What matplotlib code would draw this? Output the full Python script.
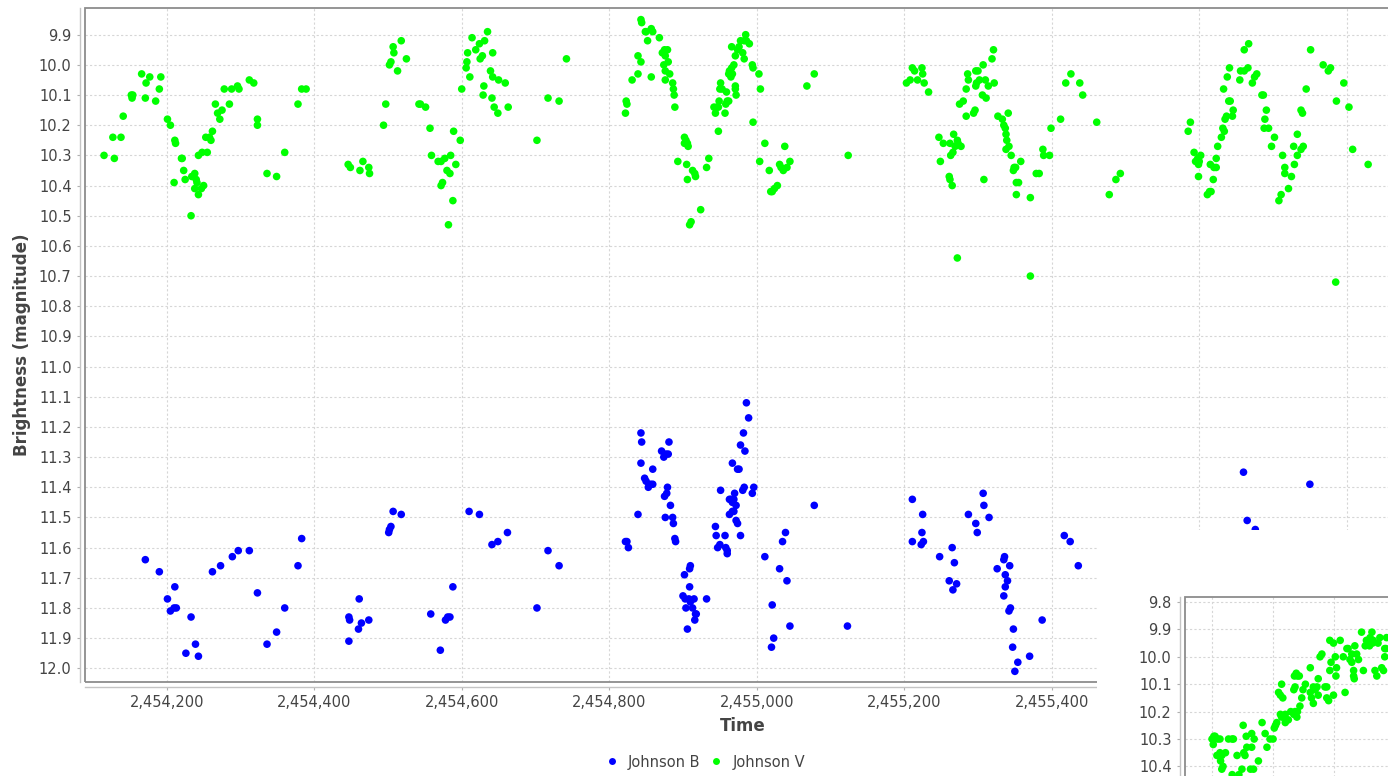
import numpy as np
import matplotlib
matplotlib.use('Agg')
import matplotlib.pyplot as plt
from matplotlib.patches import Rectangle
from matplotlib.lines import Line2D
from matplotlib.ticker import FuncFormatter, MultipleLocator

# 时间以 JD - 2454000 记录
JD0 = 2454000

# Johnson V 观测
v_time = [
    115, 127, 129, 138, 141, 152, 153, 154, 166, 171, 172, 177, 185, 190, 192, 201, 205, 211, 212, 210,
    220, 221, 223, 225, 233, 234, 238, 240, 238, 241, 243, 250, 247, 243, 248, 255, 253, 258, 260, 262,
    266, 269, 272, 275, 278, 285, 288, 296, 298, 312, 318, 323, 323, 336, 349, 360, 378, 383, 389,
    446, 449, 462, 466, 474, 475, 494, 497, 502, 504, 507, 508, 513, 518, 525, 542, 544, 551, 557, 559,
    568, 572, 577, 585, 580, 584, 574, 572, 589, 592, 588, 582, 598, 600, 606, 607, 608, 611, 614, 619,
    624, 631, 625, 628, 629, 630, 635, 639, 642, 642, 641, 644, 649, 650, 659, 663, 702, 717, 732, 742,
    822, 824, 823, 831, 839, 839, 843, 844, 849, 850, 852, 843, 857, 859, 857, 868, 872, 875, 879, 876,
    880, 874, 876, 882, 876, 886, 887, 888, 889, 902, 904, 906, 907, 902, 893, 905, 913, 916, 917, 906,
    932, 935, 924, 909, 911,
    942, 946, 944, 948, 949, 951, 950, 953, 957, 958, 959, 960, 962, 948, 962, 963, 966, 967, 965, 969,
    971, 971, 971, 972, 966, 974, 976, 978, 981, 983, 985, 986, 990, 983, 994, 995, 1003, 1005, 995, 1011,
    1004, 1017, 1019, 1021, 1024, 1028, 1031, 1033, 1036, 1041, 1045, 1038, 1068, 1078, 1124,
    1203, 1208, 1211, 1214, 1218, 1224, 1225, 1227, 1233, 1247, 1253, 1249, 1262, 1263, 1266, 1267, 1269,
    1272, 1273, 1277, 1261, 1262, 1265, 1272, 1275, 1280, 1284, 1284, 1294, 1296, 1286, 1287, 1297, 1300,
    1297, 1298, 1302, 1307, 1310, 1306, 1311, 1314, 1319, 1321, 1322, 1327, 1333, 1335, 1337, 1338, 1341,
    1339, 1342, 1338, 1345, 1349, 1348, 1351, 1358, 1352, 1355, 1352, 1371, 1371, 1308, 1379, 1383, 1388,
    1389, 1397, 1399, 1412, 1419, 1426, 1438, 1442, 1461, 1478, 1487, 1493,
    1585, 1588, 1593, 1595, 1598, 1600, 1602, 1599, 1599, 1611, 1614, 1616, 1619, 1615, 1620, 1623, 1623,
    1625, 1630, 1632, 1634, 1635, 1637, 1640, 1642, 1645, 1646, 1633, 1638, 1641, 1655, 1656, 1661, 1666,
    1672, 1675, 1678, 1661, 1667, 1685, 1687, 1691, 1689, 1688, 1694, 1702, 1698, 1713, 1716, 1716, 1725,
    1711, 1708, 1721, 1728, 1733, 1729, 1733, 1738, 1741, 1738, 1740, 1745, 1751, 1768, 1775, 1778, 1786,
    1796, 1803, 1808, 1829, 1785,
]
v_mag = [
    10.30, 10.24, 10.31, 10.24, 10.17, 10.10, 10.11, 10.10, 10.03, 10.11, 10.06, 10.04, 10.12, 10.08, 10.04, 10.18, 10.20, 10.25, 10.26, 10.39,
    10.31, 10.31, 10.35, 10.38, 10.50, 10.37, 10.36, 10.38, 10.41, 10.39, 10.43, 10.40, 10.41, 10.30, 10.29, 10.29, 10.24, 10.24, 10.25, 10.22,
    10.13, 10.16, 10.18, 10.15, 10.08, 10.13, 10.08, 10.07, 10.08, 10.05, 10.06, 10.18, 10.20, 10.36, 10.37, 10.29, 10.13, 10.08, 10.08,
    10.33, 10.34, 10.35, 10.32, 10.34, 10.36, 10.20, 10.13, 10.00, 9.99, 9.94, 9.96, 10.02, 9.92, 9.98, 10.13, 10.13, 10.14, 10.21, 10.30,
    10.32, 10.32, 10.31, 10.30, 10.35, 10.36, 10.39, 10.40, 10.22, 10.33, 10.45, 10.53, 10.25, 10.08, 10.01, 9.99, 9.96, 10.04, 9.91, 9.95,
    9.93, 9.92, 9.98, 9.97, 10.10, 10.07, 9.89, 10.02, 10.04, 9.96, 10.11, 10.14, 10.16, 10.05, 10.06, 10.14, 10.25, 10.11, 10.12, 9.98,
    10.16, 10.13, 10.12, 10.05, 10.03, 9.97, 9.85, 9.86, 9.89, 9.89, 9.92, 9.99, 9.88, 9.89, 10.04, 9.91, 9.96, 9.95, 9.95, 9.97,
    9.99, 10.00, 10.02, 10.03, 10.05, 10.06, 10.08, 10.10, 10.14, 10.24, 10.25, 10.26, 10.27, 10.26, 10.32, 10.33, 10.35, 10.36, 10.37, 10.38,
    10.34, 10.31, 10.48, 10.53, 10.52,
    10.14, 10.14, 10.16, 10.14, 10.12, 10.06, 10.08, 10.08, 10.16, 10.13, 10.09, 10.12, 10.12, 10.22, 10.03, 10.02, 10.01, 10.03, 10.04, 10.00,
    9.97, 10.08, 10.07, 10.10, 9.94, 9.95, 9.94, 9.92, 9.96, 9.98, 9.90, 9.92, 9.93, 9.92, 10.00, 10.01, 10.03, 10.08, 10.19, 10.26,
    10.32, 10.35, 10.42, 10.42, 10.41, 10.40, 10.33, 10.34, 10.35, 10.34, 10.32, 10.27, 10.07, 10.03, 10.30,
    10.06, 10.05, 10.01, 10.02, 10.05, 10.01, 10.03, 10.06, 10.09, 10.24, 10.26, 10.32, 10.26, 10.30, 10.29, 10.23, 10.27,
    10.25, 10.26, 10.27, 10.37, 10.38, 10.40, 10.64, 10.13, 10.12, 10.08, 10.17, 10.16, 10.15, 10.03, 10.05, 10.02, 10.02,
    10.07, 10.06, 10.05, 10.00, 10.05, 10.10, 10.11, 10.07, 9.98, 9.95, 10.06, 10.17, 10.18, 10.20, 10.21, 10.23, 10.16,
    10.25, 10.27, 10.28, 10.30, 10.34, 10.35, 10.34, 10.32, 10.39, 10.39, 10.43, 10.44, 10.70, 10.38, 10.36, 10.36, 10.28,
    10.30, 10.30, 10.21, 10.18, 10.06, 10.03, 10.06, 10.10, 10.19, 10.43, 10.38, 10.36,
    10.22, 10.19, 10.29, 10.32, 10.31, 10.32, 10.30, 10.33, 10.37, 10.43, 10.42, 10.42, 10.38, 10.33, 10.34, 10.34, 10.31,
    10.27, 10.24, 10.21, 10.22, 10.18, 10.17, 10.12, 10.12, 10.17, 10.15, 10.08, 10.04, 10.01, 10.05, 10.02, 10.02, 10.01,
    10.06, 10.04, 10.03, 9.95, 9.93, 10.10, 10.10, 10.15, 10.18, 10.21, 10.21, 10.24, 10.27, 10.30, 10.34, 10.36, 10.37,
    10.43, 10.45, 10.41, 10.27, 10.23, 10.33, 10.30, 10.28, 10.27, 10.15, 10.16, 10.08, 9.95, 10.00, 10.02, 10.01, 10.12,
    10.06, 10.14, 10.28, 10.33, 10.72,
]

# Johnson B 观测
b_time = [
    171, 190, 201, 205, 211, 210, 213, 226, 233, 239, 243, 262, 273, 289, 297, 312, 323, 336, 349, 360, 378, 383,
    447, 448, 447, 460, 464, 461, 474, 501, 502, 504, 507, 518, 558, 571, 578, 581, 584, 588, 610, 624, 641, 649,
    662, 702, 717, 732,
    824, 826, 822, 839, 843, 844, 843, 848, 850, 853, 856, 859, 859, 871, 874, 877, 880, 881, 875, 878, 879, 883,
    876, 886, 887, 889, 890,
    902, 909, 910, 909, 900, 903, 904, 908, 910, 915, 913, 906, 917, 918, 916, 932, 944, 945, 957, 947, 950, 958,
    960, 960,
    951, 963, 965, 967, 969, 970, 972, 969, 967, 963, 967, 974, 976, 972, 974, 978, 978, 984, 982, 986, 989, 981,
    983, 994, 996,
    1011, 1035, 1039, 1078, 1031, 1041, 1021, 1045, 1023, 1020, 1123,
    1211, 1225, 1224, 1226, 1223, 1211, 1248, 1265, 1268, 1261, 1271, 1266, 1287, 1297, 1299, 1307, 1308, 1315,
    1336, 1335, 1326, 1343, 1337, 1340, 1337, 1335, 1344, 1342, 1348, 1347, 1354, 1350, 1370, 1387, 1417, 1425,
    1436,
    1660, 1665, 1676, 1750,
]
b_mag = [
    11.64, 11.68, 11.77, 11.81, 11.73, 11.80, 11.80, 11.95, 11.83, 11.92, 11.96, 11.68, 11.66, 11.63, 11.61, 11.61, 11.75, 11.92, 11.88, 11.80, 11.66, 11.57,
    11.83, 11.84, 11.91, 11.87, 11.85, 11.77, 11.84, 11.55, 11.54, 11.53, 11.48, 11.49, 11.82, 11.94, 11.84, 11.83, 11.83, 11.73, 11.48, 11.49, 11.59, 11.58,
    11.55, 11.80, 11.61, 11.66,
    11.58, 11.60, 11.58, 11.49, 11.22, 11.25, 11.32, 11.37, 11.38, 11.40, 11.39, 11.39, 11.34, 11.28, 11.30, 11.29, 11.29, 11.25, 11.43, 11.42, 11.40, 11.46,
    11.50, 11.50, 11.52, 11.57, 11.58,
    11.69, 11.67, 11.66, 11.73, 11.76, 11.77, 11.80, 11.77, 11.78, 11.77, 11.80, 11.87, 11.82, 11.82, 11.84, 11.77, 11.53, 11.56, 11.56, 11.60, 11.59, 11.60,
    11.61, 11.62,
    11.41, 11.44, 11.44, 11.45, 11.44, 11.42, 11.46, 11.48, 11.48, 11.49, 11.32, 11.34, 11.34, 11.51, 11.52, 11.56, 11.26, 11.28, 11.22, 11.12, 11.17, 11.41,
    11.40, 11.42, 11.40,
    11.63, 11.58, 11.55, 11.46, 11.67, 11.71, 11.79, 11.86, 11.90, 11.93, 11.86,
    11.44, 11.49, 11.55, 11.58, 11.59, 11.58, 11.63, 11.60, 11.65, 11.71, 11.72, 11.74, 11.49, 11.52, 11.55, 11.42, 11.46, 11.50,
    11.63, 11.64, 11.67, 11.66, 11.69, 11.71, 11.73, 11.76, 11.80, 11.81, 11.87, 11.93, 11.98, 12.01, 11.96, 11.84, 11.56, 11.58,
    11.66,
    11.35, 11.51, 11.54, 11.39,
]

# 小窗口中的相位图 (Johnson V)
ph_phase = [
    0.100, 0.103, 0.105, 0.109, 0.113, 0.102, 0.108, 0.113, 0.116, 0.122, 0.114, 0.116, 0.118, 0.127, 0.133, 0.135,
    0.133, 0.141, 0.144, 0.149, 0.151, 0.152, 0.154, 0.156, 0.157, 0.163, 0.165, 0.165, 0.168, 0.169, 0.176, 0.182,
    0.187, 0.190, 0.195, 0.200, 0.202, 0.204, 0.206, 0.209, 0.212, 0.214, 0.216, 0.212, 0.214, 0.220, 0.220, 0.225,
    0.229, 0.234, 0.236, 0.240, 0.239, 0.244, 0.234, 0.236, 0.235, 0.238, 0.240, 0.243, 0.247, 0.249, 0.253, 0.261,
    0.261, 0.263, 0.266, 0.266, 0.269, 0.272, 0.274, 0.274, 0.277, 0.280, 0.285, 0.288, 0.288, 0.291, 0.293, 0.295,
    0.293, 0.299, 0.299, 0.302, 0.303, 0.304, 0.310, 0.315, 0.318, 0.321, 0.323, 0.326, 0.329, 0.332, 0.332, 0.333,
    0.329, 0.334, 0.337, 0.340, 0.345, 0.348, 0.351, 0.353, 0.358, 0.359, 0.362, 0.363, 0.364, 0.367, 0.370, 0.372,
    0.375, 0.378, 0.381, 0.383, 0.383, 0.386, 0.385,
]
ph_mag = [
    10.30, 10.29, 10.29, 10.30, 10.30, 10.32, 10.36, 10.35, 10.36, 10.35, 10.38, 10.41, 10.40, 10.30, 10.30, 10.30,
    10.43, 10.36, 10.43, 10.41, 10.25, 10.35, 10.36, 10.29, 10.33, 10.41, 10.33, 10.28, 10.41, 10.30, 10.38, 10.24,
    10.28, 10.33, 10.30, 10.30, 10.26, 10.25, 10.24, 10.13, 10.14, 10.10, 10.15, 10.21, 10.22, 10.21, 10.24, 10.23,
    10.20, 10.21, 10.20, 10.20, 10.22, 10.18, 10.12, 10.11, 10.07, 10.06, 10.07, 10.07, 10.15, 10.12, 10.10, 10.04,
    10.13, 10.15, 10.17, 10.11, 10.12, 10.11, 10.08, 10.14, 10.00, 9.99, 10.11, 10.11, 10.15, 10.16, 10.05, 10.02,
    9.94, 9.95, 10.14, 10.00, 10.07, 10.04, 9.94, 10.00, 10.13, 9.97, 9.97, 10.01, 10.02, 10.05, 10.07, 10.08,
    9.99, 9.96, 9.99, 10.01, 9.91, 10.05, 9.96, 9.94, 9.96, 9.93, 9.91, 9.95, 9.94, 10.05, 10.07, 9.95,
    9.93, 10.04, 10.05, 9.97, 10.00, 9.93, 9.97,
]

W, H = 1388, 776
TICK_COLOR = '#444444'
FONT_SIZE = 10.5

plt.rcParams['font.family'] = ['DejaVu Sans']

fig = plt.figure(figsize=(W / 100, H / 100), dpi=100)


def style_axes(ax):
    """JFreeChart 风格的坐标轴：灰色外框 + 偏移的轴线 + 虚线网格"""
    for side in ['top', 'right']:
        ax.spines[side].set_visible(False)
    for side in ['left', 'bottom']:
        ax.spines[side].set_position(('outward', 3.6))
        ax.spines[side].set_color('#c4c4c4')
        ax.spines[side].set_linewidth(1.0)
    ax.add_patch(Rectangle((0, 0), 1, 1, transform=ax.transAxes, fill=False,
                           edgecolor='#8c8c8c', linewidth=1.3, clip_on=False, zorder=4))
    ax.grid(True, color='#d6d6d6', linestyle=(0, (2, 2)), linewidth=0.8)
    ax.set_axisbelow(True)
    ax.tick_params(axis='both', length=2, width=0.8, color='#b0b0b0',
                   labelcolor=TICK_COLOR, labelsize=FONT_SIZE, pad=4)


# 主图
ax = fig.add_axes([85 / W, 1 - 682 / H, (1400 - 85) / W, (682 - 8) / H])
ax.scatter(np.array(b_time) + JD0, b_mag, s=30, color='#0000ff', edgecolors='none', zorder=3)
ax.scatter(np.array(v_time) + JD0, v_mag, s=30, color='#00ff00', edgecolors='none', zorder=3)
ax.set_xlim(2454089.2, 2455872.2)
ax.set_ylim(12.0454, 9.8115)
ax.xaxis.set_major_locator(MultipleLocator(200))
ax.yaxis.set_major_locator(MultipleLocator(0.1))
ax.xaxis.set_major_formatter(FuncFormatter(lambda x, p: f'{x:,.0f}'))
ax.yaxis.set_major_formatter(FuncFormatter(lambda y, p: f'{y:.1f}'))
style_axes(ax)
ax.set_xlabel('Time', fontsize=12, fontweight='bold', color=TICK_COLOR, labelpad=5)
ax.set_ylabel('Brightness (magnitude)', fontsize=12, fontweight='bold', color=TICK_COLOR, labelpad=6)

handles = [
    Line2D([], [], marker='o', linestyle='none', color='#0000ff', markersize=5, markeredgewidth=0),
    Line2D([], [], marker='o', linestyle='none', color='#00ff00', markersize=5, markeredgewidth=0),
]
fig.legend(handles, ['Johnson B', 'Johnson V'], loc='center', bbox_to_anchor=(706 / W, 1 - 762 / H),
           ncol=2, frameon=False, fontsize=FONT_SIZE, handlelength=0.6, handletextpad=0.8,
           columnspacing=0.8, labelcolor=TICK_COLOR)

# 覆盖在右下角的相位图窗口
fig.add_artist(Rectangle((1097 / W, 0), 1 - 1097 / W + 0.01, (776 - 530) / H,
                         transform=fig.transFigure, facecolor='white', edgecolor='none', zorder=1))

ax2 = fig.add_axes([1185 / W, -0.02, (1400 - 1185) / W, 597 / H * 0 + (1 - 597 / H) + 0.02])
ax2.set_zorder(2)
ax2.scatter(ph_phase, ph_mag, s=30, color='#00ff00', edgecolors='none', zorder=3)
ax2.set_xlim(0.0557, 0.408)
ax2.set_ylim(10.4916, 9.7818)
ax2.xaxis.set_major_locator(MultipleLocator(0.1))
ax2.yaxis.set_major_locator(MultipleLocator(0.1))
ax2.yaxis.set_major_formatter(FuncFormatter(lambda y, p: f'{y:.1f}'))
style_axes(ax2)
ax2.spines['bottom'].set_visible(False)
ax2.tick_params(axis='x', length=0, labelbottom=False)

fig.savefig('out.png', dpi=100)
